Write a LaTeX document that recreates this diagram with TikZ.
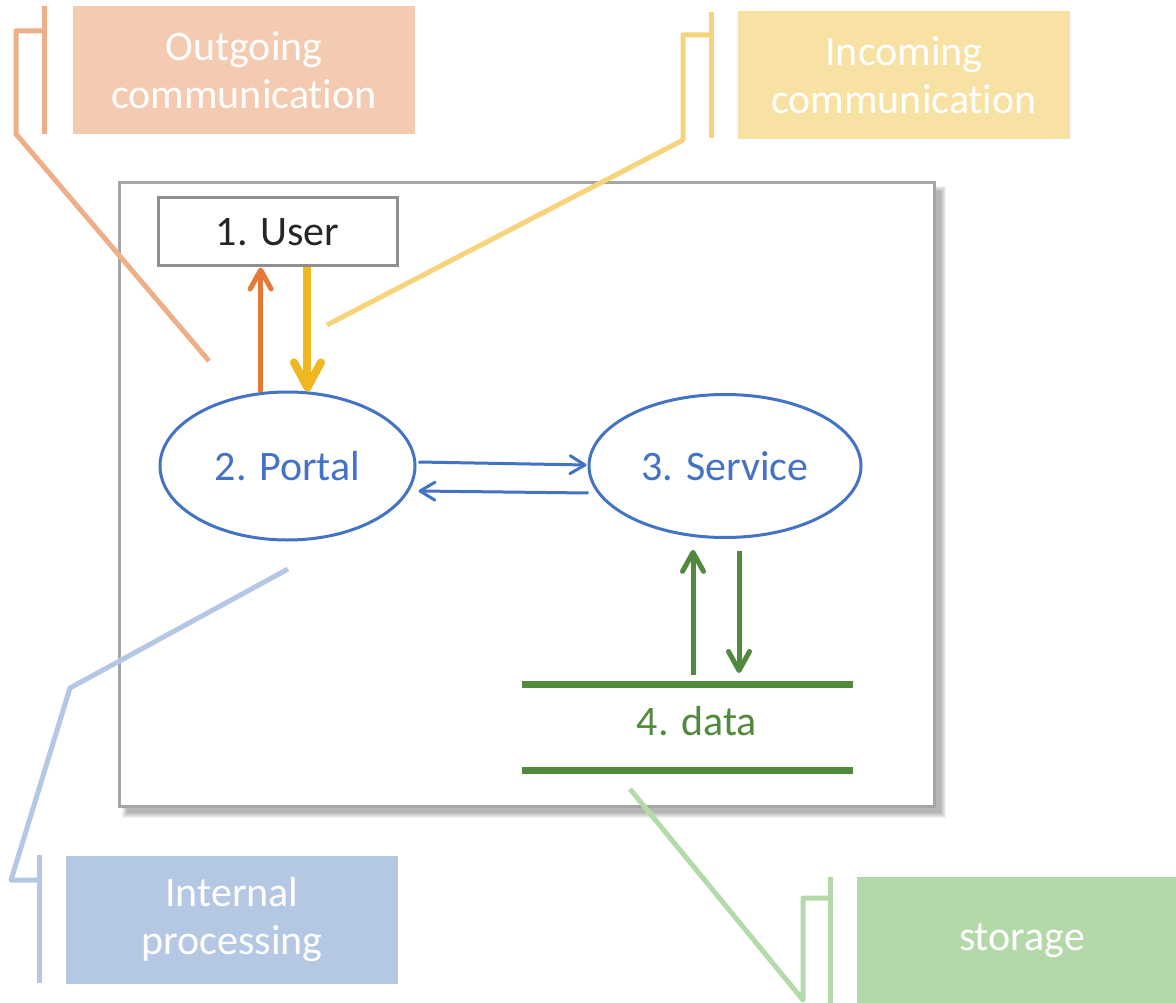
\documentclass[tikz,border=0pt]{standalone}
\usepackage{fontspec}
\setmainfont{Carlito}[Ligatures=NoCommon]
\usetikzlibrary{shapes.geometric,arrows.meta,calc}

\definecolor{frameGray}{HTML}{A5A5A5}
\definecolor{userGray}{HTML}{8F8F8F}
\definecolor{textDark}{HTML}{262626}
\definecolor{portalBlue}{HTML}{4472C4}
\definecolor{outOrange}{HTML}{E5793A}
\definecolor{inYellow}{HTML}{EFB820}
\definecolor{dataGreen}{HTML}{518A3F}
\definecolor{orangeBox}{HTML}{F4CAB0}
\definecolor{orangeLine}{HTML}{EDAE88}
\definecolor{yellowBox}{HTML}{F8E2A3}
\definecolor{yellowLine}{HTML}{F6D47C}
\definecolor{blueBox}{HTML}{B4C7E3}
\definecolor{blueLine}{HTML}{B4C7E5}
\definecolor{greenBox}{HTML}{B3D9A9}
\definecolor{greenLine}{HTML}{B3DBAA}

\tikzset{
  calloutbox/.style={rectangle, inner sep=0pt, text=white, align=center,
    minimum height=128pt},
  leader/.style={line width=5pt, line join=round},
  processnode/.style={ellipse, draw=portalBlue, line width=3pt, text=portalBlue,
    inner sep=0pt},
  flowarrow/.style={draw=portalBlue, line width=3pt,
    -{Straight Barb[length=15pt, width=18pt, round]}},
  outarrow/.style={draw=outOrange, line width=5pt,
    -{Straight Barb[length=19pt, width=21pt, round]}},
  inarrow/.style={draw=inYellow, line width=8pt,
    -{Straight Barb[length=25pt, width=27pt, round]}},
  storearrow/.style={draw=dataGreen, line width=5pt,
    -{Straight Barb[length=19pt, width=21pt, round]}},
}

\begin{document}
\begin{tikzpicture}[x=1pt, y=-1pt, font=\fontsize{42pt}{50pt}\selectfont]
\useasboundingbox (0,0) rectangle (1176,1003);

% soft shadow and frame of the system boundary
\foreach \r in {0,1,...,5}
  \fill[black, opacity=0.055] (127-\r,191-\r) rectangle (941+\r,813+\r);
\fill[white] (119,183) rectangle (934,806);
\draw[frameGray, line width=3pt] (119,183) rectangle (934,806);

% callout boxes
\node[calloutbox, fill=orangeBox, minimum width=342pt] (outbox) at (244,70)
  {\raisebox{-2pt}{Outgoing}\\communication};
\node[calloutbox, fill=yellowBox, minimum width=332pt] (inbox) at (904,75)
  {\raisebox{-2pt}{Incoming}\\communication};
\node[calloutbox, fill=blueBox, minimum width=332pt] (procbox) at (232,920)
  {\raisebox{-2pt}{Internal}\\processing};
\node[calloutbox, fill=greenBox, minimum width=330pt] (storebox) at (1022,941)
  {storage};

% callout leaders
\draw[orangeLine, line width=5pt] (44,6) -- (44,134);
\draw[orangeLine, leader] (44,31) -- (16,31) -- (16,134) -- (209,361);
\draw[yellowLine, line width=5pt] (711,12) -- (711,138);
\draw[yellowLine, leader] (711,35) -- (683,35) -- (683,140) -- (327,325);
\draw[blueLine, line width=5pt] (39,855) -- (39,983);
\draw[blueLine, leader] (288,569) -- (70,688) -- (11,880) -- (39,880);
\draw[greenLine, line width=5pt] (830,877) -- (830,1005);
\draw[greenLine, leader] (630,789) -- (803,1000) -- (803,898) -- (830,898);

% elements
\node[rectangle, draw=userGray, line width=3pt, minimum width=239pt,
  minimum height=68pt, inner sep=0pt, text=textDark] (user) at (277.5,232)
  {\raisebox{-2pt}{1. User}};
\node[processnode, minimum width=255pt, minimum height=148pt] (portal)
  at (287.5,466) {2. Portal};
\node[processnode, minimum width=272pt, minimum height=143pt] (service)
  at (725,466) {3. Service};

% data store
\coordinate (storeTL) at (522,684);
\coordinate (storeTR) at (853,684);
\coordinate (storeBL) at (522,770);
\coordinate (storeBR) at (853,770);
\draw[dataGreen, line width=7pt] (storeTL) -- (storeTR);
\draw[dataGreen, line width=7pt] (storeBL) -- (storeBR);
\node[text=dataGreen, inner sep=0pt] (datalabel) at (697,721) {4. data};

% user <-> portal
\draw[outarrow] (portal.110.8) -- (portal.110.8 |- user.south);
\draw[inarrow] (user.south -| portal.75.8) -- (portal.75.8);

% portal <-> service
\draw[flowarrow] ($(portal.east)+(2,-4)$) -- ($(service.west)+(-1,-1)$);
\draw[flowarrow] ($(service.west)+(1,27)$) -- ($(portal.east)+(2,25)$);

% service <-> data store
\coordinate (upStart) at ($(storeTL)+(171,-9)$);
\coordinate (downEnd) at ($(storeTL)+(217,-11)$);
\draw[storearrow, shorten >=13pt] (upStart) -- (upStart |- service.245.3);
\draw[storearrow, shorten <=12pt] (downEnd |- service.281.1) -- (downEnd);
\end{tikzpicture}
\end{document}
